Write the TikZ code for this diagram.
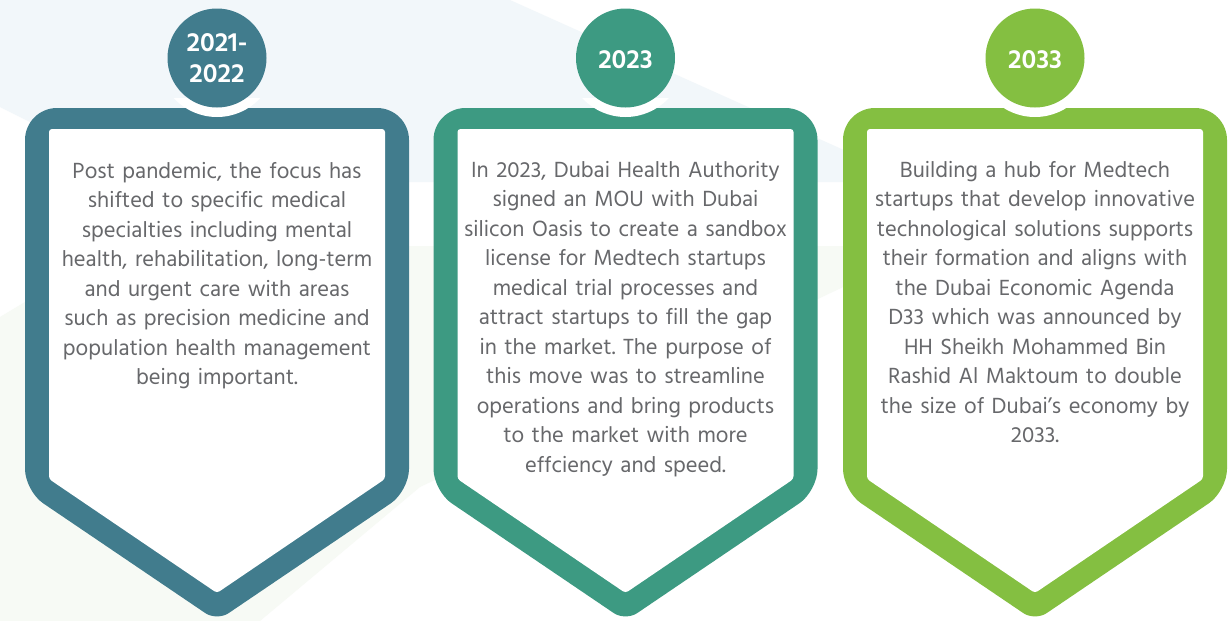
\documentclass[tikz,border=0pt]{standalone}
\usepackage{fontspec}
\setmainfont{Hind Madurai}
\frenchspacing
\definecolor{cA}{HTML}{417C8D}
\definecolor{cB}{HTML}{3D9A82}
\definecolor{cC}{HTML}{84BF41}
\definecolor{txtgray}{HTML}{67686B}
\definecolor{bgblue}{HTML}{F2F7FA}
\definecolor{bggreen}{HTML}{F7FAF5}
\tikzset{
  bodytext/.style={text=txtgray, font=\fontsize{22.5pt}{29.5pt}\selectfont, align=center, text width=340pt, inner sep=0pt, anchor=north},
  yeartext/.style={text=white, font=\fontsize{27pt}{31pt}\selectfont\bfseries, align=center, inner sep=0pt},
  yearcircle/.style={circle, minimum size=99pt, inner sep=0pt},
}
\newcommand{\tlpanel}[3]{% #1 xshift, #2 colour, #3 name
  \begin{scope}[xshift=#1pt]
    \fill[#2] (217,108) [rounded corners=32pt] -- (409,108) [rounded corners=22pt] -- (409,491) [rounded corners=14pt] -- (217,621) [rounded corners=22pt] -- (25,491) [rounded corners=32pt] -- (25,108) -- cycle;
    \fill[white, rounded corners=3pt] (49,129) -- (385,129) -- (385,479) -- (217,593) -- (49,479) -- cycle;
    \begin{scope}
      \clip (0,98) rectangle (430,140);
      \fill[white] (217,58) circle[radius=59pt];
    \end{scope}
    \node[yearcircle, fill=#2] (#3) at (217,58) {};
  \end{scope}
}
\begin{document}
\begin{tikzpicture}[x=1pt,y=-1pt]
\useasboundingbox (0,0) rectangle (1229,621);
\fill[white] (0,0) rectangle (1229,621);
\fill[bgblue] (0,0) -- (510,0) -- (915,182) -- (150,182) -- (0,107) -- cycle;
\fill[bggreen] (0,317) -- (118,246) -- (930,246) -- (420,487) -- (260,621) -- (0,621) -- cycle;

\tlpanel{0}{cA}{y1}
\tlpanel{408.5}{cB}{y2}
\tlpanel{818}{cC}{y3}

\node[yeartext] (t1) at (y1) {2021-\\2022};
\node[yeartext] (t2) at ([yshift=-2pt]y2) {2023};
\node[yeartext] (t3) at ([yshift=-2pt]y3) {2033};

\node[bodytext] (b1) at (217,162) {Post pandemic, the focus has\\shifted to specific medical\\specialties including mental\\health, rehabilitation, long-term\\and urgent care with areas\\such as precision medicine and\\population health management\\being important.};
\node[bodytext] (b2) at (625.5,161) {In 2023, Dubai Health Authority\\signed an MOU with Dubai\\silicon Oasis to create a sandbox\\license for Medtech startups\\medical trial processes and\\attract startups to fill the gap\\in the market. The purpose of\\this move was to streamline\\operations and bring products\\to the market with more\\effciency and speed.};
\node[bodytext] (b3) at (1035,161) {Building a hub for Medtech\\startups that develop innovative\\technological solutions supports\\their formation and aligns with\\the Dubai Economic Agenda\\D33 which was announced by\\HH Sheikh Mohammed Bin\\Rashid Al Maktoum to double\\the size of Dubai’s economy by\\2033.};
\end{tikzpicture}
\end{document}
